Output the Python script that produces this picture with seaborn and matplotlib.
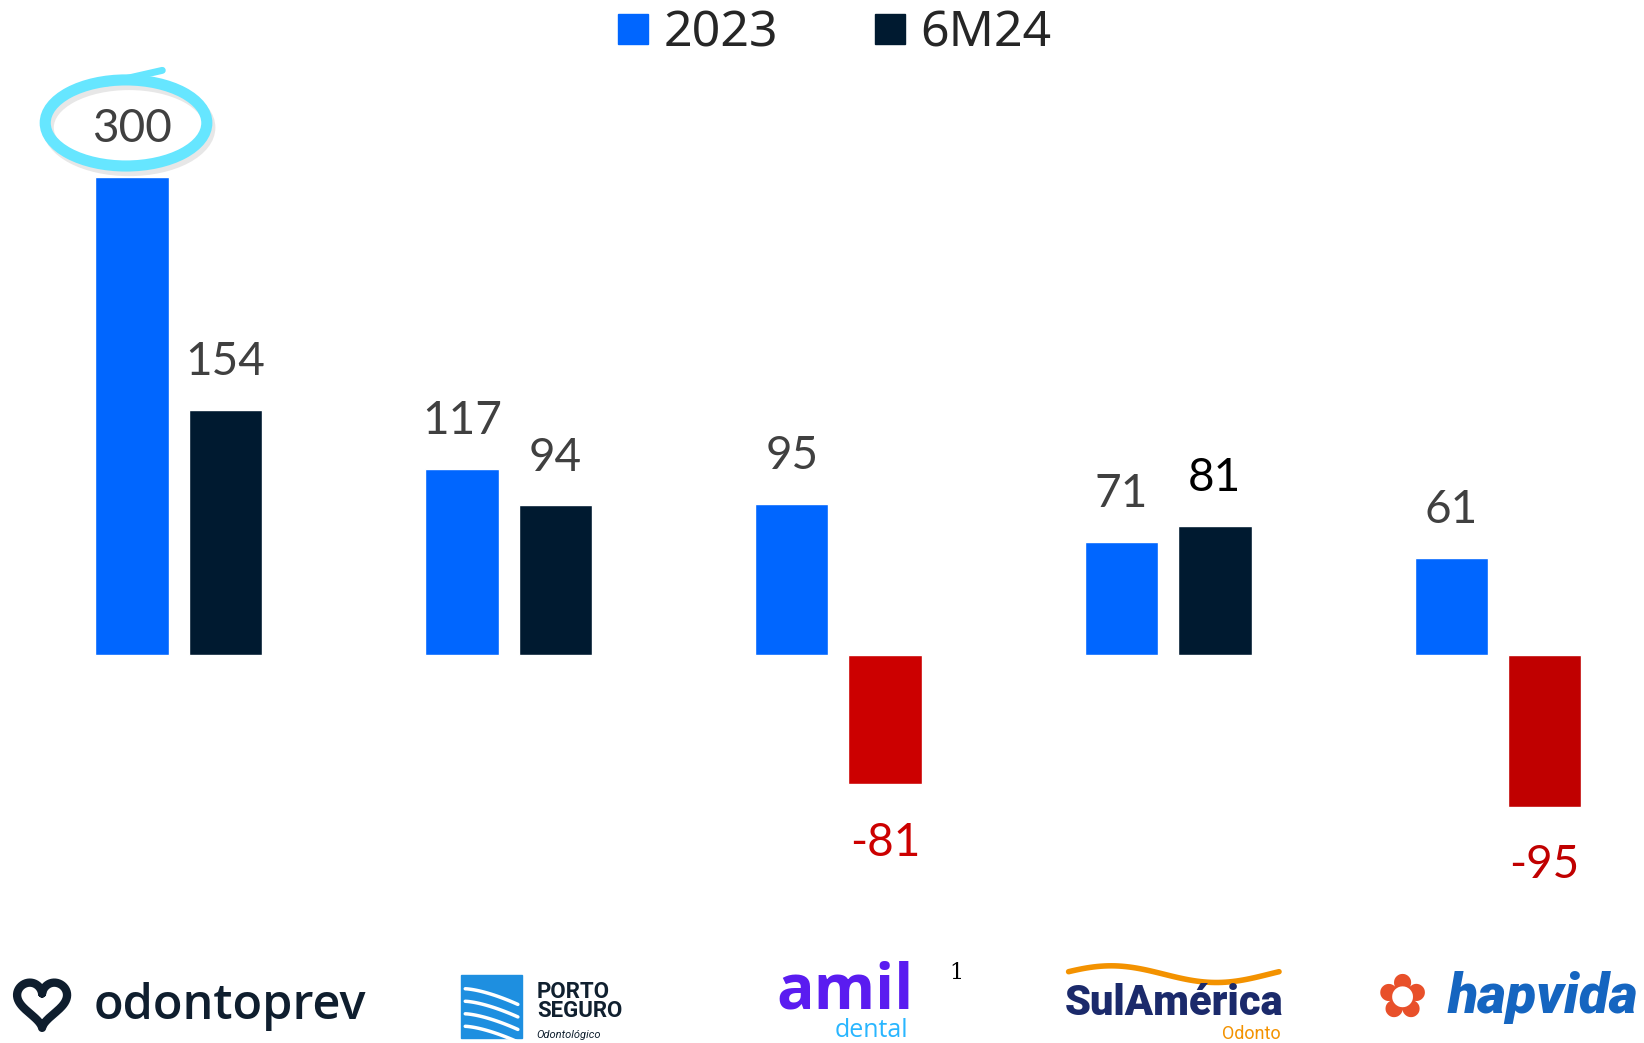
import numpy as np
import pandas as pd
import seaborn as sns
import matplotlib.pyplot as plt
import matplotlib.transforms as mtransforms
from matplotlib.lines import Line2D
from matplotlib.patches import Ellipse, Rectangle

empresas = ["odontoprev", "Porto Seguro", "amil dental", "SulAmérica", "hapvida"]
valores_2023 = [300, 117, 95, 71, 61]
valores_6m24 = [154, 94, -81, 81, -95]
periodos = ["2023", "6M24"]

AZUL = "#0066FF"
ESCURO = "#001A30"
VERMELHO = "#CC0000"
VERMELHO2 = "#C00000"
CINZA = "#404040"

df = pd.DataFrame({
    "empresa": empresas * 2,
    "periodo": [periodos[0]] * 5 + [periodos[1]] * 5,
    "valor": valores_2023 + valores_6m24,
})

sns.set_style("white")
plt.rcParams["font.family"] = ["Lato", "DejaVu Sans"]

fig = plt.figure(figsize=(16.44, 10.43), dpi=100)
ax = fig.add_axes([0.00845, 0.1425, 0.993, 0.7335])

sns.barplot(data=df, x="empresa", y="valor", hue="periodo",
            palette=[AZUL, ESCURO], saturation=1, width=0.566, gap=0.213,
            legend=False, ax=ax)

ax.set_xlim(-0.5, 4.45)
ax.set_ylim(-150, 330)
ax.axis("off")

# cores por barra + rótulos
for i, bar in enumerate(ax.patches):
    h = bar.get_height()
    cx = bar.get_x() + bar.get_width() / 2
    cor_txt = CINZA
    if h < 0:
        bar.set_facecolor(VERMELHO2 if i == 9 else VERMELHO)
        cor_txt = bar.get_facecolor()
        ax.annotate(f"{h:.0f}", (cx, h), xytext=(0, -27), textcoords="offset points",
                    ha="center", va="top", fontsize=33, color=cor_txt)
    else:
        if i == 8:
            cor_txt = "black"
        ax.annotate(f"{h:.0f}", (cx, h), xytext=(0, 25), textcoords="offset points",
                    ha="center", va="baseline", fontsize=33, color=cor_txt)

# destaque no 300
sombra = ax.transData + mtransforms.ScaledTranslation(3 / 100, -3 / 100, fig.dpi_scale_trans)
ax.add_patch(Ellipse((-0.16, 333), 0.49, 54, fill=False, lw=8, ec="#BBBBBB",
                     alpha=0.35, clip_on=False, zorder=3, transform=sombra))
ax.add_patch(Ellipse((-0.16, 334), 0.49, 54, fill=False, lw=8,
                     ec="#66E6FF", clip_on=False, zorder=4))
ax.plot([-0.22, -0.05], [359, 367], color="#66E6FF", lw=5,
        solid_capstyle="round", clip_on=False, zorder=4)

# legenda
handles = [Line2D([], [], marker="s", ls="", markersize=22, color=c) for c in (AZUL, ESCURO)]
fig.legend(handles, periodos, loc="center", bbox_to_anchor=(0.507, 0.968), ncol=2,
           frameon=False, handlelength=0.7, handletextpad=0.25, columnspacing=1.9,
           prop={"family": ["Noto Sans", "DejaVu Sans"], "size": 36, "weight": "medium"})

# "logos" das empresas
t = np.linspace(0, 2 * np.pi, 200)
hx = 16 * np.sin(t) ** 3
hy = 13 * np.cos(t) - 5 * np.cos(2 * t) - 2 * np.cos(3 * t) - np.cos(4 * t)
fig.add_artist(Line2D(0.0256 + hx * 0.00095, 0.040 + hy * 0.0015,
                      transform=fig.transFigure, color="#0F1E2E", lw=6))
fig.text(0.140, 0.035, "odontoprev", fontsize=35, color="#0F1E2E", ha="center",
         va="center", family="Open Sans", fontweight="semibold")

fig.patches.append(Rectangle((0.2805, 0.005), 0.037, 0.060, transform=fig.transFigure,
                             color="#1E8FE0", zorder=2))
for k in range(4):
    ax_x = np.linspace(0.283, 0.315, 30)
    fig.add_artist(Line2D(ax_x, 0.052 - k * 0.012 - 0.015 * ((ax_x - 0.283) / 0.032) ** 1.5,
                          transform=fig.transFigure, color="white", lw=2.5, zorder=3))
fig.text(0.3265, 0.040, "PORTO\nSEGURO", fontsize=16, color="#10202F", ha="left",
         va="center", family="Roboto", fontweight="bold", linespacing=0.85)
fig.text(0.3265, 0.008, "Odontológico", fontsize=8, color="#10202F", ha="left",
         va="center", family="Roboto", style="italic")

fig.text(0.514, 0.033, "amil", fontsize=45, color="#5A1CF0", ha="center", va="baseline",
         family="Open Sans", fontweight="bold")
fig.text(0.530, 0.0, "dental", fontsize=18, color="#29B6FF", ha="center", va="bottom",
         family="Open Sans")
fig.text(0.582, 0.067, "1", fontsize=16, color="black", ha="center", va="center",
         family="DejaVu Serif")

fig.text(0.714, 0.038, "SulAmérica", fontsize=30, color="#1B2A6B", ha="center",
         va="center", family="Roboto", fontweight="black")
wx = np.linspace(0.650, 0.778, 60)
fig.add_artist(Line2D(wx, 0.066 + 0.008 * np.sin((wx - 0.650) / 0.128 * 2 * np.pi + 0.3),
                      transform=fig.transFigure, color="#F39200", lw=4))
fig.text(0.761, 0.0, "Odonto", fontsize=13, color="#F39200", ha="center",
         va="bottom", family="Roboto")

fig.text(0.853, 0.041, "✿", fontsize=44, color="#E8502A", ha="center", va="center",
         family="DejaVu Sans")
fig.text(0.9385, 0.044, "hapvida", fontsize=40, color="#1565C0", ha="center", va="center",
         family="Roboto", fontweight="black", style="italic")

fig.savefig("out.png", dpi=100, facecolor="white")
